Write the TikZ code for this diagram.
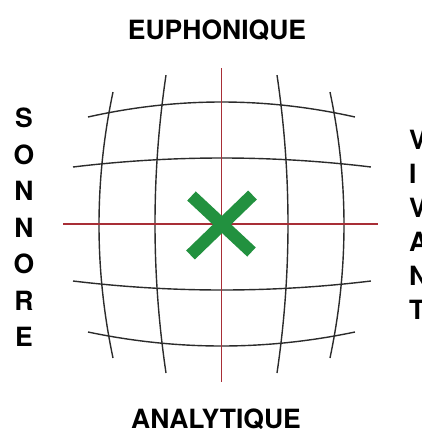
\documentclass[tikz,border=0pt]{standalone}
\usepackage{fontspec}
\setmainfont{TeX Gyre Heros}
\usepackage{xcolor}
\definecolor{gridred}{HTML}{A82E36}
\definecolor{crossgreen}{HTML}{22913F}
\definecolor{gridline}{HTML}{2B2B2B}

\begin{document}
\begin{tikzpicture}[x=1pt,y=1pt,every node/.style={font=\fontsize{26.5}{30}\selectfont\bfseries,inner sep=0pt}]
    \tikzstyle{gridl}=[draw=gridline,line width=1.4pt];
    \tikzstyle{axisl}=[draw=gridred,line width=1.6pt];
    \tikzstyle{crossl}=[draw=crossgreen,line width=12.5pt];
    \useasboundingbox (0,0) rectangle (422,-437);
    \coordinate (c) at (221.5,-224);
    \draw[gridl] plot[domain=-1:1,samples=41] ({221.5+133.5*\x},{-117+15*(1-\x*\x)});
    \draw[gridl] plot[domain=-1:1,samples=41] ({222+149*\x},{-167+9*(1-\x*\x)});
    \draw[gridl] plot[domain=-1:1,samples=41] ({222+149*\x},{-281-9*(1-\x*\x)});
    \draw[gridl] plot[domain=-1:1,samples=41] ({221.5+133.5*\x},{-332-14*(1-\x*\x)});
    \draw[gridl] plot[domain=-1:1,samples=41] ({113-14*(1-\x*\x)},{-225+133*\x});
    \draw[gridl] plot[domain=-1:1,samples=41] ({166-11*(1-\x*\x)},{-224+149*\x});
    \draw[gridl] plot[domain=-1:1,samples=41] ({277+11*(1-\x*\x)},{-224+149*\x});
    \draw[gridl] plot[domain=-1:1,samples=41] ({330+14*(1-\x*\x)},{-225+133*\x});
    \draw[axisl] (221.5,-68) -- (221.5,-382);
    \draw[axisl] (63,-224) -- (378,-224);
    \draw[crossl] (c) ++(-30,28) -- ++(60,-56);
    \draw[crossl] (c) ++(31,29) -- ++(-62,-60);
    \node[anchor=base] (eu) at (217,-39) {EUPHONIQUE};
    \node[anchor=base] (an) at (216,-428.5) {ANALYTIQUE};
    \foreach \l [count=\i] in {S,O,N,N,O,R,E}
      \node[anchor=base] (son\i) at (24,{-127.5-36.5*(\i-1)}) {\l};
    \foreach \l [count=\i] in {V,I,V,A,N,T}
      \node[anchor=base west] (viv\i) at (409,{-149.5-34*(\i-1)}) {\l};
\end{tikzpicture}
\end{document}
